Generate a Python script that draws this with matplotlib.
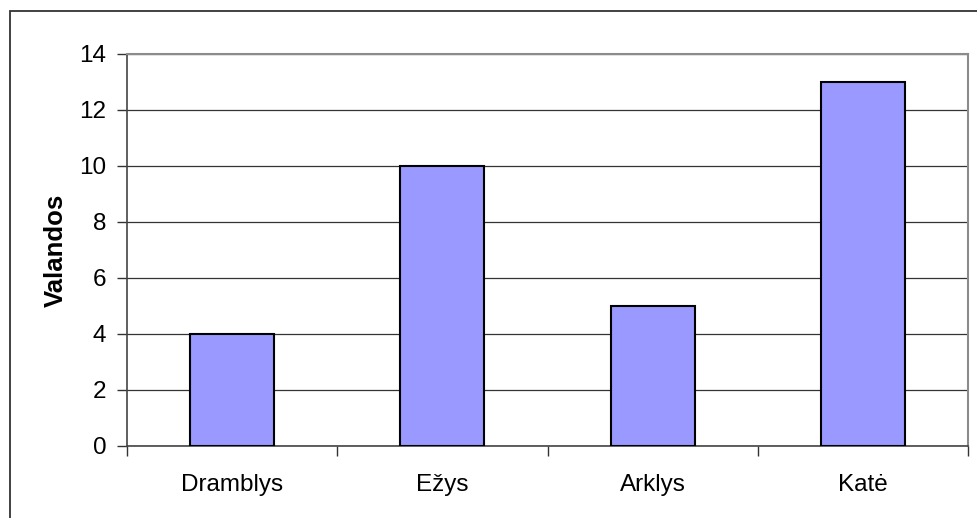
import matplotlib
matplotlib.use("Agg")
import matplotlib.pyplot as plt
from matplotlib.patches import Rectangle

# data
animals = ["Dramblys", "Ežys", "Arklys", "Katė"]
hours = [4, 10, 5, 13]
y_ticks = [0, 2, 4, 6, 8, 10, 12, 14]

plt.rcParams['font.family'] = ['Liberation Sans', 'DejaVu Sans']

fig = plt.figure(figsize=(9.77, 5.18), dpi=100)
W, H = 977, 518
ax = fig.add_axes([127 / W, 1 - 446 / H, (968 - 127) / W, (446 - 54) / H])

# outer chart border (runs off the right/bottom edge like the original)
fig.patches.append(Rectangle((10 / W, -0.05), 1.2, 1 - 11 / H + 0.05,
                             transform=fig.transFigure, fill=False,
                             edgecolor="#333333", linewidth=1.3))

x = list(range(len(animals)))
ax.bar(x, hours, width=0.4, color="#9999ff", edgecolor="black",
       linewidth=1.5, zorder=3)

ax.set_xlim(-0.5, len(animals) - 0.5)
ax.set_ylim(0, 14)
ax.set_yticks(y_ticks)
ax.set_yticklabels([str(v) for v in y_ticks], fontsize=17.5)
ax.yaxis.grid(True, color="#333333", linewidth=0.9, zorder=0)
ax.set_axisbelow(True)

# category labels centred, ticks on the boundaries between categories
ax.set_xticks(x)
ax.set_xticklabels(animals, fontsize=17.5)
ax.tick_params(axis="x", length=0, pad=20)
ax.set_xticks([i + 0.5 for i in range(-1, len(animals))], minor=True)
ax.tick_params(axis="x", which="minor", length=7, width=1, color="#333333")
ax.tick_params(axis="y", length=7, width=1, color="#333333", pad=8)

ax.set_ylabel("Valandos", fontsize=18.5, fontweight="bold", labelpad=8)

for side in ["top", "right"]:
    ax.spines[side].set_color("#8c8c8c")
    ax.spines[side].set_linewidth(1.5)
for side in ["left", "bottom"]:
    ax.spines[side].set_color("#444444")
    ax.spines[side].set_linewidth(1.2)

fig.savefig("out.png", dpi=100)
